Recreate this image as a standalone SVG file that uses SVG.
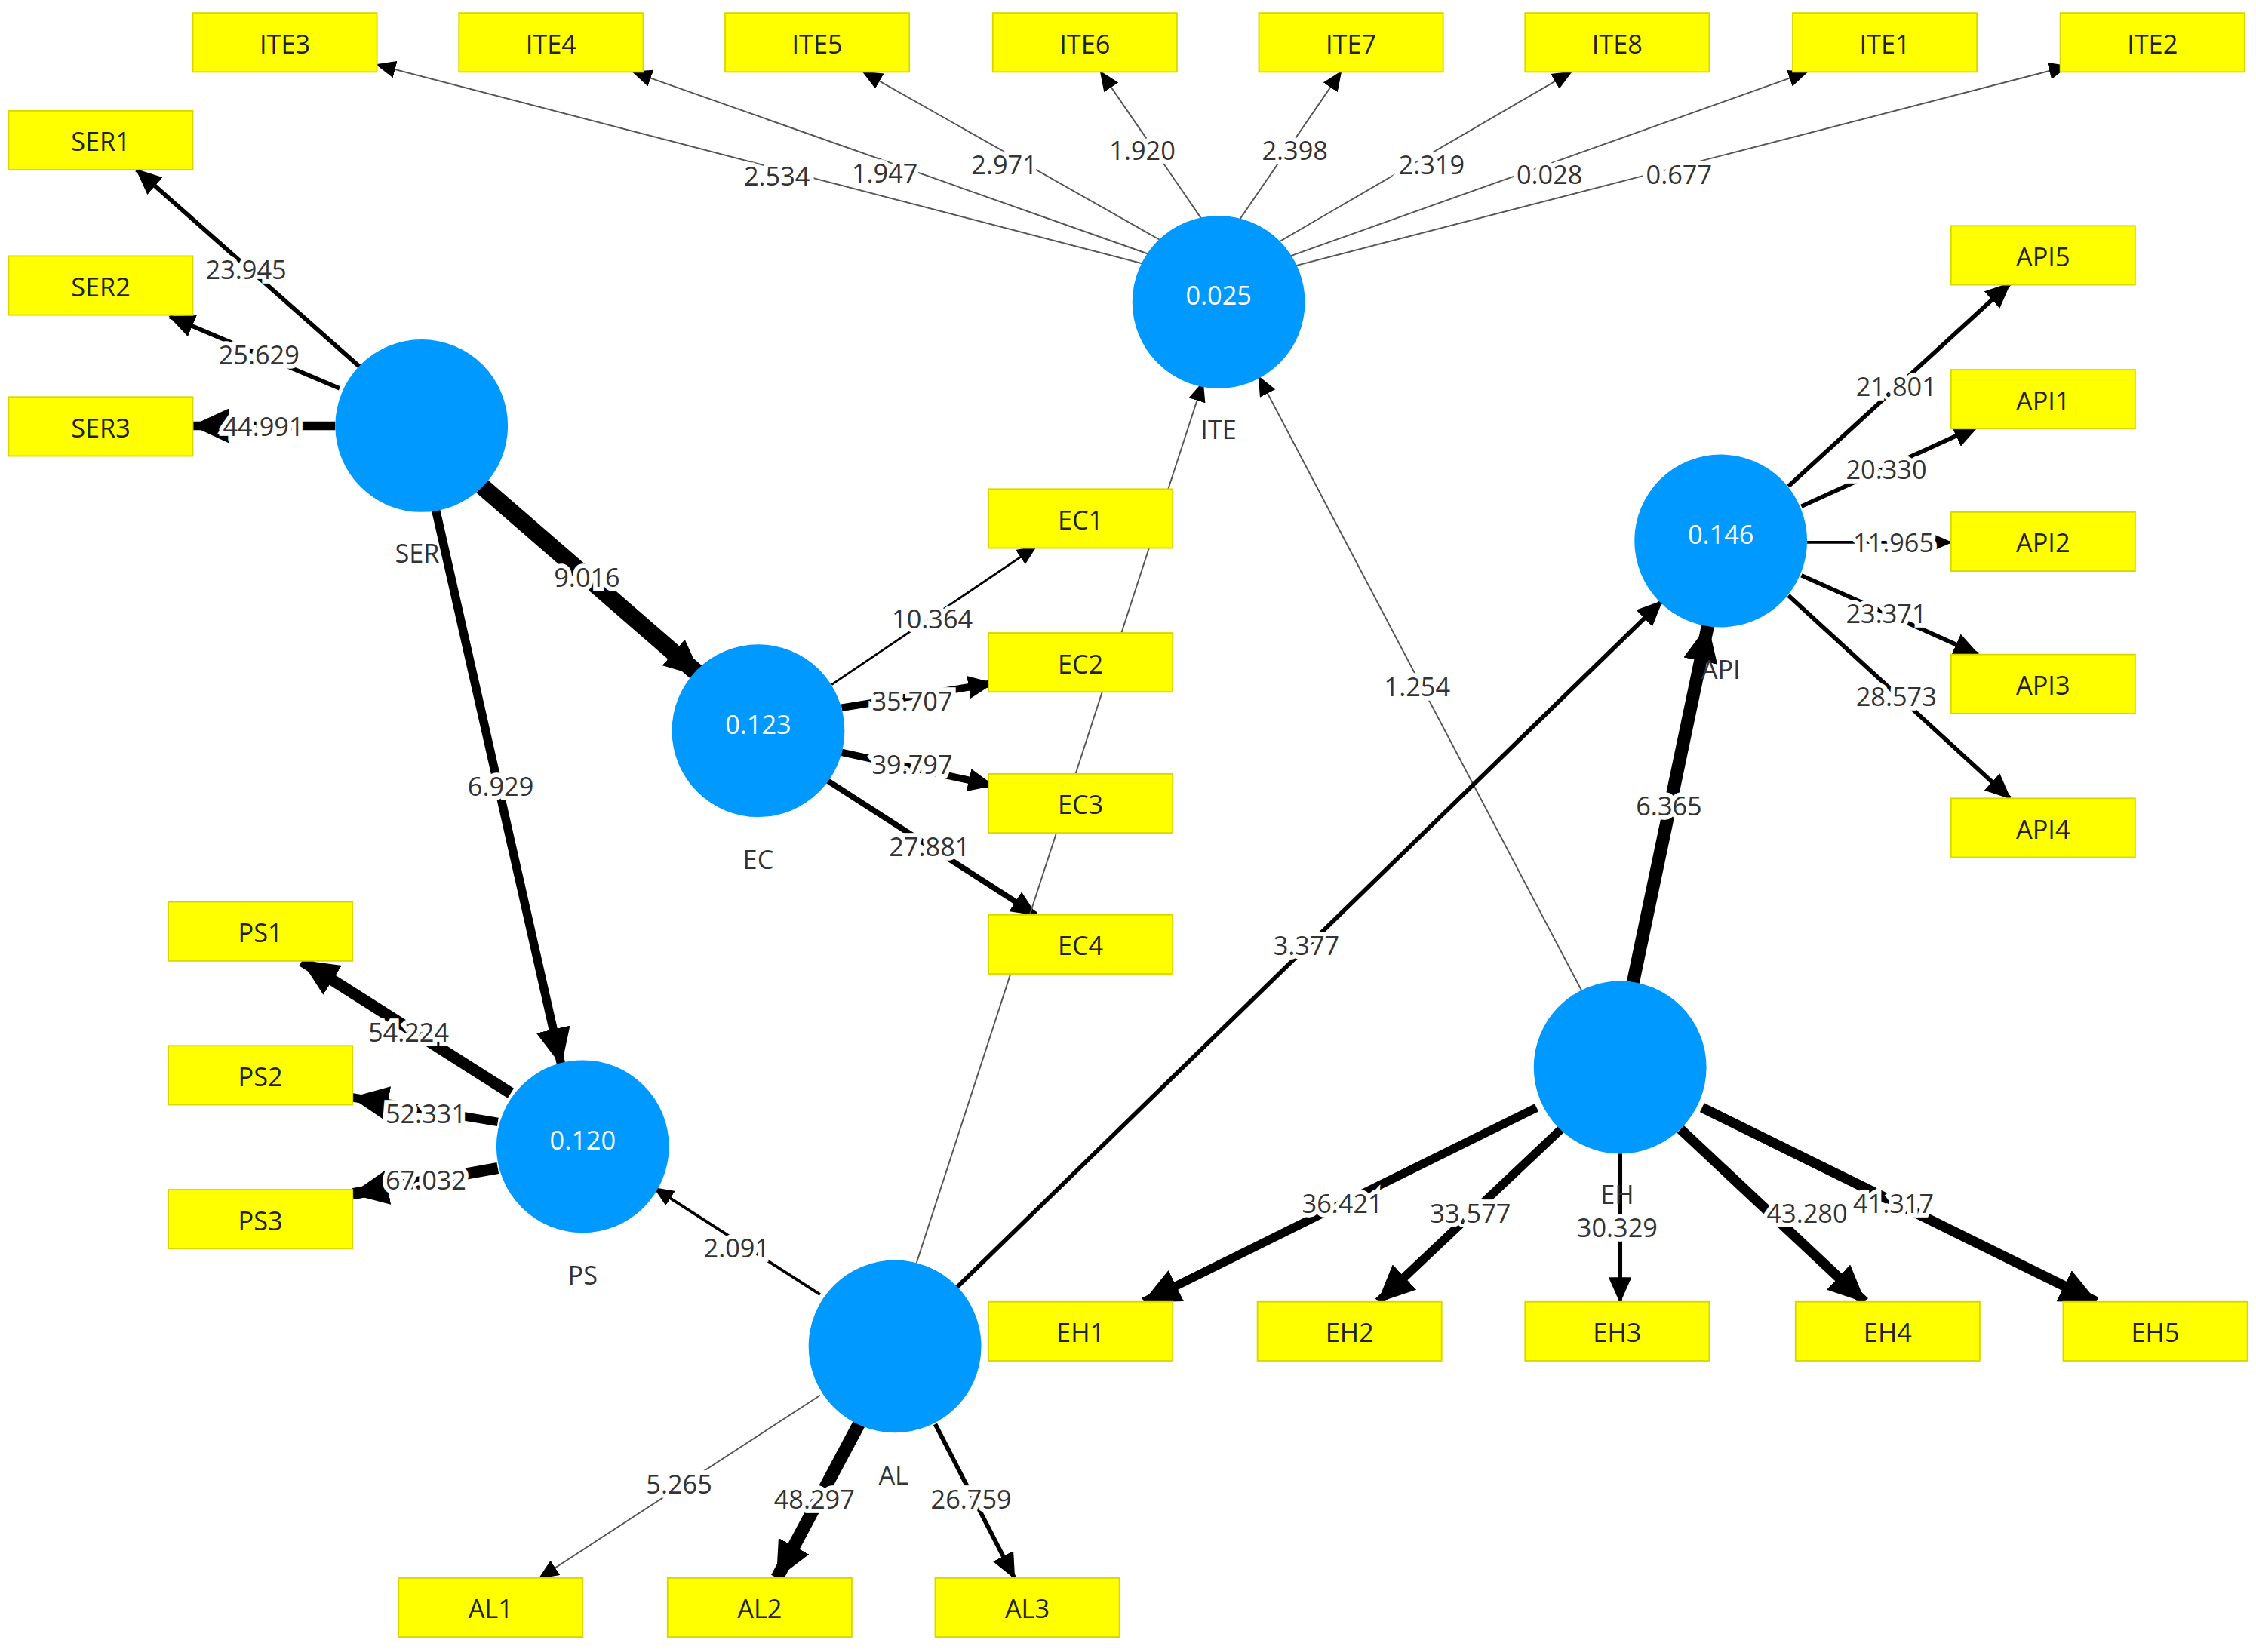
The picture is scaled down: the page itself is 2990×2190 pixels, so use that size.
<svg xmlns="http://www.w3.org/2000/svg" width="2990" height="2190" viewBox="0 0 2990 2190">
<style>
.bx{fill:#ffff00;stroke:#d8d800;stroke-width:1}
.bt{font-family:"Open Sans","DejaVu Sans",sans-serif;font-size:18px;fill:#222;text-anchor:middle;dominant-baseline:central}
.c{fill:#0099ff}
.ct{font-family:"Open Sans","DejaVu Sans",sans-serif;font-size:18px;fill:#fff;text-anchor:middle;dominant-baseline:central}
.cl{font-family:"Open Sans","DejaVu Sans",sans-serif;font-size:18px;fill:#333;text-anchor:middle;dominant-baseline:central}
.e{stroke:#000;fill:none}
.t{stroke:#555;stroke-width:1}
.lb{font-family:"Open Sans","DejaVu Sans",sans-serif;font-size:18px;fill:#333;text-anchor:middle;dominant-baseline:central;stroke:#fff;stroke-width:6;paint-order:stroke}
</style>
<defs>
<marker id="s" markerUnits="userSpaceOnUse" markerWidth="14" markerHeight="12" refX="13" refY="6" orient="auto"><path d="M0,0 L14,6 L0,12 Z" fill="#000"/></marker>
<marker id="m" markerUnits="userSpaceOnUse" markerWidth="18" markerHeight="16" refX="17" refY="8" orient="auto"><path d="M0,0 L18,8 L0,16 Z" fill="#000"/></marker>
<marker id="l" markerUnits="userSpaceOnUse" markerWidth="26" markerHeight="24" refX="25" refY="12" orient="auto"><path d="M0,0 L26,12 L0,24 Z" fill="#000"/></marker>
</defs>
<rect width="2990" height="2190" fill="#fff"/>
<g transform="scale(1.9069)">
<g id="connectors">
<line class="e t" x1="820" y1="190" x2="262" y2="45" marker-end="url(#s)"/>
<line class="e t" x1="822" y1="185" x2="440" y2="50" marker-end="url(#s)"/>
<line class="e t" x1="826" y1="178" x2="600" y2="50" marker-end="url(#s)"/>
<line class="e t" x1="835" y1="152" x2="765" y2="50" marker-end="url(#s)"/>
<line class="e t" x1="862" y1="152" x2="932" y2="50" marker-end="url(#s)"/>
<line class="e t" x1="872" y1="178" x2="1092" y2="50" marker-end="url(#s)"/>
<line class="e t" x1="877" y1="185" x2="1256" y2="50" marker-end="url(#s)"/>
<line class="e t" x1="880" y1="190" x2="1437" y2="46" marker-end="url(#s)"/>
<line class="e" stroke-width="3" x1="250" y1="255" x2="95" y2="118" marker-end="url(#m)"/>
<line class="e" stroke-width="3" x1="236" y1="270" x2="118" y2="220" marker-end="url(#m)"/>
<line class="e" stroke-width="6" x1="233" y1="296" x2="134" y2="296" marker-end="url(#l)"/>
<line class="e" stroke-width="12" x1="335" y1="338" x2="487" y2="470" marker-end="url(#l)"/>
<line class="e" stroke-width="6" x1="303" y1="355" x2="390" y2="740" marker-end="url(#l)"/>
<line class="e" stroke-width="1.5" x1="578" y1="476" x2="720" y2="380" marker-end="url(#s)"/>
<line class="e" stroke-width="5" x1="585" y1="492" x2="690" y2="475" marker-end="url(#m)"/>
<line class="e" stroke-width="5" x1="585" y1="523" x2="690" y2="546" marker-end="url(#m)"/>
<line class="e" stroke-width="4" x1="574" y1="542" x2="720" y2="636" marker-end="url(#m)"/>
<line class="e" stroke-width="8" x1="355" y1="760" x2="210" y2="668" marker-end="url(#l)"/>
<line class="e" stroke-width="6" x1="346" y1="780" x2="245" y2="763" marker-end="url(#l)"/>
<line class="e" stroke-width="8" x1="346" y1="812" x2="245" y2="830" marker-end="url(#l)"/>
<line class="e" stroke-width="2" x1="570" y1="900" x2="455" y2="826" marker-end="url(#s)"/>
<line class="e t" x1="637" y1="878" x2="836" y2="266" marker-end="url(#s)"/>
<line class="e t" x1="1100" y1="690" x2="875" y2="262" marker-end="url(#s)"/>
<line class="e" stroke-width="3" x1="665" y1="895" x2="1155" y2="418" marker-end="url(#m)"/>
<line class="e" stroke-width="9" x1="1135" y1="683" x2="1187" y2="435" marker-end="url(#l)"/>
<line class="e" stroke-width="3" x1="1243" y1="338" x2="1397" y2="197" marker-end="url(#m)"/>
<line class="e" stroke-width="3" x1="1252" y1="352" x2="1375" y2="296" marker-end="url(#m)"/>
<line class="e" stroke-width="2" x1="1256" y1="377" x2="1356" y2="377" marker-end="url(#s)"/>
<line class="e" stroke-width="3" x1="1252" y1="400" x2="1375" y2="455" marker-end="url(#m)"/>
<line class="e" stroke-width="3" x1="1243" y1="414" x2="1397" y2="555" marker-end="url(#m)"/>
<line class="e" stroke-width="6" x1="1068" y1="770" x2="795" y2="905" marker-end="url(#l)"/>
<line class="e" stroke-width="6" x1="1085" y1="785" x2="958" y2="905" marker-end="url(#l)"/>
<line class="e" stroke-width="3" x1="1126" y1="802" x2="1126" y2="905" marker-end="url(#m)"/>
<line class="e" stroke-width="7" x1="1168" y1="785" x2="1296" y2="905" marker-end="url(#l)"/>
<line class="e" stroke-width="7" x1="1183" y1="770" x2="1457" y2="905" marker-end="url(#l)"/>
<line class="e t" x1="570" y1="970" x2="375" y2="1097" marker-end="url(#s)"/>
<line class="e" stroke-width="9" x1="597" y1="990" x2="540" y2="1097" marker-end="url(#l)"/>
<line class="e" stroke-width="3" x1="650" y1="990" x2="705" y2="1097" marker-end="url(#m)"/>
<text class="lb" x="540" y="122">2.534</text><text class="lb" x="615" y="120">1.947</text>
<text class="lb" x="698" y="114">2.971</text><text class="lb" x="794" y="104">1.920</text>
<text class="lb" x="900" y="104">2.398</text><text class="lb" x="995" y="114">2.319</text>
<text class="lb" x="1077" y="121">0.028</text><text class="lb" x="1167" y="121">0.677</text>
<text class="lb" x="171" y="187">23.945</text><text class="lb" x="180" y="246">25.629</text>
<text class="lb" x="183" y="296">44.991</text><text class="lb" x="408" y="401">9.016</text>
<text class="lb" x="348" y="546">6.929</text><text class="lb" x="648" y="430">10.364</text>
<text class="lb" x="634" y="487">35.707</text><text class="lb" x="634" y="531">39.797</text>
<text class="lb" x="646" y="588">27.881</text><text class="lb" x="284" y="717">54.224</text>
<text class="lb" x="296" y="774">52.331</text><text class="lb" x="296" y="820">67.032</text>
<text class="lb" x="512" y="867">2.091</text><text class="lb" x="985" y="477">1.254</text>
<text class="lb" x="908" y="657">3.377</text><text class="lb" x="1160" y="560">6.365</text>
<text class="lb" x="1318" y="268">21.801</text><text class="lb" x="1311" y="326">20.330</text>
<text class="lb" x="1316" y="377">11.965</text><text class="lb" x="1311" y="426">23.371</text>
<text class="lb" x="1318" y="484">28.573</text><text class="lb" x="933" y="836">36.421</text>
<text class="lb" x="1022" y="843">33.577</text><text class="lb" x="1124" y="853">30.329</text>
<text class="lb" x="1256" y="843">43.280</text><text class="lb" x="1316" y="836">41.317</text>
<text class="lb" x="472" y="1031">5.265</text><text class="lb" x="566" y="1042">48.297</text>
<text class="lb" x="675" y="1042">26.759</text>
</g>
<g id="ITE"><circle class="c" cx="847" cy="210" r="60"/><text class="ct" x="847" y="205">0.025</text><text class="cl" x="847" y="298">ITE</text></g>
<g id="SER"><circle class="c" cx="293" cy="296" r="60"/><text class="cl" x="290" y="384">SER</text></g>
<g id="EC"><circle class="c" cx="527" cy="508" r="60"/><text class="ct" x="527" y="503">0.123</text><text class="cl" x="527" y="597">EC</text></g>
<g id="API"><circle class="c" cx="1196" cy="376" r="60"/><text class="ct" x="1196" y="371">0.146</text><text class="cl" x="1196" y="465">API</text></g>
<g id="PS"><circle class="c" cx="405" cy="797" r="60"/><text class="ct" x="405" y="792">0.120</text><text class="cl" x="405" y="886">PS</text></g>
<g id="EH"><circle class="c" cx="1126" cy="742" r="60"/><text class="cl" x="1124" y="830">EH</text></g>
<g id="AL"><circle class="c" cx="622" cy="936" r="60"/><text class="cl" x="621" y="1025">AL</text></g>
<g id="ITE3"><rect class="bx" x="134" y="9" width="128" height="41"/><text class="bt" x="198" y="30">ITE3</text></g>
<g id="ITE4"><rect class="bx" x="319" y="9" width="128" height="41"/><text class="bt" x="383" y="30">ITE4</text></g>
<g id="ITE5"><rect class="bx" x="504" y="9" width="128" height="41"/><text class="bt" x="568" y="30">ITE5</text></g>
<g id="ITE6"><rect class="bx" x="690" y="9" width="128" height="41"/><text class="bt" x="754" y="30">ITE6</text></g>
<g id="ITE7"><rect class="bx" x="875" y="9" width="128" height="41"/><text class="bt" x="939" y="30">ITE7</text></g>
<g id="ITE8"><rect class="bx" x="1060" y="9" width="128" height="41"/><text class="bt" x="1124" y="30">ITE8</text></g>
<g id="ITE1"><rect class="bx" x="1246" y="9" width="128" height="41"/><text class="bt" x="1310" y="30">ITE1</text></g>
<g id="ITE2"><rect class="bx" x="1432" y="9" width="128" height="41"/><text class="bt" x="1496" y="30">ITE2</text></g>
<g id="SER1"><rect class="bx" x="6" y="77" width="128" height="41"/><text class="bt" x="70" y="98">SER1</text></g>
<g id="SER2"><rect class="bx" x="6" y="178" width="128" height="41"/><text class="bt" x="70" y="199">SER2</text></g>
<g id="SER3"><rect class="bx" x="6" y="276" width="128" height="41"/><text class="bt" x="70" y="297">SER3</text></g>
<g id="EC1"><rect class="bx" x="687" y="340" width="128" height="41"/><text class="bt" x="751" y="361">EC1</text></g>
<g id="EC2"><rect class="bx" x="687" y="440" width="128" height="41"/><text class="bt" x="751" y="461">EC2</text></g>
<g id="EC3"><rect class="bx" x="687" y="538" width="128" height="41"/><text class="bt" x="751" y="559">EC3</text></g>
<g id="EC4"><rect class="bx" x="687" y="636" width="128" height="41"/><text class="bt" x="751" y="657">EC4</text></g>
<g id="API5"><rect class="bx" x="1356" y="157" width="128" height="41"/><text class="bt" x="1420" y="178">API5</text></g>
<g id="API1"><rect class="bx" x="1356" y="257" width="128" height="41"/><text class="bt" x="1420" y="278">API1</text></g>
<g id="API2"><rect class="bx" x="1356" y="356" width="128" height="41"/><text class="bt" x="1420" y="377">API2</text></g>
<g id="API3"><rect class="bx" x="1356" y="455" width="128" height="41"/><text class="bt" x="1420" y="476">API3</text></g>
<g id="API4"><rect class="bx" x="1356" y="555" width="128" height="41"/><text class="bt" x="1420" y="576">API4</text></g>
<g id="PS1"><rect class="bx" x="117" y="627" width="128" height="41"/><text class="bt" x="181" y="648">PS1</text></g>
<g id="PS2"><rect class="bx" x="117" y="727" width="128" height="41"/><text class="bt" x="181" y="748">PS2</text></g>
<g id="PS3"><rect class="bx" x="117" y="827" width="128" height="41"/><text class="bt" x="181" y="848">PS3</text></g>
<g id="EH1"><rect class="bx" x="687" y="905" width="128" height="41"/><text class="bt" x="751" y="926">EH1</text></g>
<g id="EH2"><rect class="bx" x="874" y="905" width="128" height="41"/><text class="bt" x="938" y="926">EH2</text></g>
<g id="EH3"><rect class="bx" x="1060" y="905" width="128" height="41"/><text class="bt" x="1124" y="926">EH3</text></g>
<g id="EH4"><rect class="bx" x="1248" y="905" width="128" height="41"/><text class="bt" x="1312" y="926">EH4</text></g>
<g id="EH5"><rect class="bx" x="1434" y="905" width="128" height="41"/><text class="bt" x="1498" y="926">EH5</text></g>
<g id="AL1"><rect class="bx" x="277" y="1097" width="128" height="41"/><text class="bt" x="341" y="1118">AL1</text></g>
<g id="AL2"><rect class="bx" x="464" y="1097" width="128" height="41"/><text class="bt" x="528" y="1118">AL2</text></g>
<g id="AL3"><rect class="bx" x="650" y="1097" width="128" height="41"/><text class="bt" x="714" y="1118">AL3</text></g>
</g>
</svg>
